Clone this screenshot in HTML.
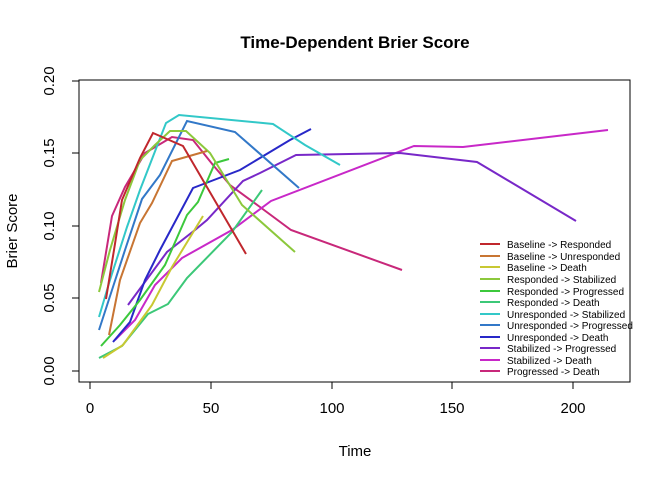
<!DOCTYPE html>
<html><head><meta charset="utf-8"><style>body{margin:0;background:#fff}svg{display:block}</style></head><body>
<svg width="672" height="480" xmlns="http://www.w3.org/2000/svg" font-family="Liberation Sans, sans-serif">
<rect width="672" height="480" fill="#fff"/>
<text x="355" y="48" font-size="17" font-weight="bold" text-anchor="middle">Time-Dependent Brier Score</text>
<rect x="79" y="80" width="551" height="302" fill="none" stroke="#000" stroke-width="1"/>
<g stroke="#000" stroke-width="1">
<line x1="90" y1="382" x2="573" y2="382"/>
<line x1="90" y1="382" x2="90" y2="389"/><line x1="211" y1="382" x2="211" y2="389"/><line x1="332" y1="382" x2="332" y2="389"/><line x1="452" y1="382" x2="452" y2="389"/><line x1="573" y1="382" x2="573" y2="389"/>
<line x1="79" y1="81" x2="79" y2="371"/>
<line x1="72" y1="371" x2="79" y2="371"/><line x1="72" y1="298" x2="79" y2="298"/><line x1="72" y1="226" x2="79" y2="226"/><line x1="72" y1="153" x2="79" y2="153"/><line x1="72" y1="81" x2="79" y2="81"/>
</g>
<g font-size="15" text-anchor="middle">
<text x="90" y="413">0</text><text x="211" y="413">50</text><text x="332" y="413">100</text><text x="452" y="413">150</text><text x="573" y="413">200</text>
<text x="355" y="456">Time</text>
<text transform="translate(54,371) rotate(-90)">0.00</text>
<text transform="translate(54,298) rotate(-90)">0.05</text>
<text transform="translate(54,226) rotate(-90)">0.10</text>
<text transform="translate(54,153) rotate(-90)">0.15</text>
<text transform="translate(54,81) rotate(-90)">0.20</text>
<text transform="translate(17,231) rotate(-90)">Brier Score</text>
</g>
<g fill="none" stroke-width="2">
<polyline stroke="#C8287A" points="101,283 112,216 125,187 145,153 172,137 193,140 213,165 230,185 260,207 291,230 402,270"/>
<polyline stroke="#C828C8" points="115,340 135,320 155,285 182,258 232,230 271,201 414,146 463,147 608,130"/>
<polyline stroke="#7828C8" points="128,305 167,252 195,230 207,220 243,181 260,173 296,155 400,153 477,162 576,221"/>
<polyline stroke="#2828C8" points="113,342 130,322 145,280 160,250 193,188 240,170 265,155 290,140 311,129"/>
<polyline stroke="#3278C8" points="99,330 112,290 125,250 142,199 160,175 187,121 235,132 299,188"/>
<polyline stroke="#32C8C8" points="99,317 110,280 127,227 140,190 166,123 179,115 273,124 305,145 340,165"/>
<polyline stroke="#3CC878" points="99,358 122,346 148,314 168,304 187,278 232,232 262,190"/>
<polyline stroke="#3CC83C" points="101,346 120,325 140,300 165,265 187,215 198,202 215,163 229,159"/>
<polyline stroke="#8CC83C" points="99,292 110,250 125,200 140,160 155,145 170,131 186,131 210,153 242,205 295,252"/>
<polyline stroke="#C8C832" points="103,358 123,345 152,305 172,267 203,216"/>
<polyline stroke="#C87533" points="109,335 120,280 140,223 152,203 172,161 207,151"/>
<polyline stroke="#C0272D" points="106,299 114,250 122,200 140,158 153,133 183,146 246,254"/>
</g>
<g stroke-width="2">
<line x1="480" y1="244" x2="500" y2="244" stroke="#C0272D"/>
<line x1="480" y1="256" x2="500" y2="256" stroke="#C87533"/>
<line x1="480" y1="267" x2="500" y2="267" stroke="#C8C832"/>
<line x1="480" y1="279" x2="500" y2="279" stroke="#8CC83C"/>
<line x1="480" y1="291" x2="500" y2="291" stroke="#3CC83C"/>
<line x1="480" y1="302" x2="500" y2="302" stroke="#3CC878"/>
<line x1="480" y1="314" x2="500" y2="314" stroke="#32C8C8"/>
<line x1="480" y1="325" x2="500" y2="325" stroke="#3278C8"/>
<line x1="480" y1="337" x2="500" y2="337" stroke="#2828C8"/>
<line x1="480" y1="348" x2="500" y2="348" stroke="#7828C8"/>
<line x1="480" y1="360" x2="500" y2="360" stroke="#C828C8"/>
<line x1="480" y1="371" x2="500" y2="371" stroke="#C8287A"/>
</g>
<g font-size="10">
<text x="507" y="248">Baseline -&gt; Responded</text>
<text x="507" y="260">Baseline -&gt; Unresponded</text>
<text x="507" y="271">Baseline -&gt; Death</text>
<text x="507" y="283">Responded -&gt; Stabilized</text>
<text x="507" y="295">Responded -&gt; Progressed</text>
<text x="507" y="306">Responded -&gt; Death</text>
<text x="507" y="318">Unresponded -&gt; Stabilized</text>
<text x="507" y="329">Unresponded -&gt; Progressed</text>
<text x="507" y="341">Unresponded -&gt; Death</text>
<text x="507" y="352">Stabilized -&gt; Progressed</text>
<text x="507" y="364">Stabilized -&gt; Death</text>
<text x="507" y="375">Progressed -&gt; Death</text>
</g>
</svg>
</body></html>
